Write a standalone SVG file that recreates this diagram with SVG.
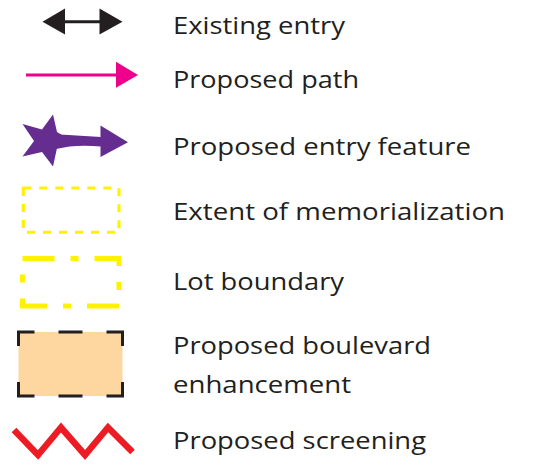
<svg xmlns="http://www.w3.org/2000/svg" width="539" height="465" viewBox="0 0 539 465">
<style>
.t{font-family:"Open Sans","Liberation Sans",sans-serif;font-size:24.5px;fill:#231f20}
</style>
<rect width="539" height="465" fill="#ffffff"/>
<g id="existing-entry">
<line x1="64" y1="21.7" x2="101" y2="21.7" stroke="#231f20" stroke-width="3"/>
<polygon points="42.5,21.7 65,8.5 65,34.5" fill="#231f20"/>
<polygon points="122.5,21.7 99.5,8.5 99.5,34.5" fill="#231f20"/>
<text class="t" x="173" y="34" textLength="172" lengthAdjust="spacingAndGlyphs">Existing entry</text>
</g>
<g id="proposed-path">
<line x1="26" y1="75" x2="117" y2="75" stroke="#ec008c" stroke-width="3"/>
<polygon points="116,61.7 138,75 116,87.7" fill="#ec008c"/>
<text class="t" x="173" y="88" textLength="186" lengthAdjust="spacingAndGlyphs">Proposed path</text>
</g>
<g id="proposed-entry-feature" fill="#662d91">
<polygon points="53,114.5 57,132 70,140 57,148 53,166.5 42,152 22.5,156.5 34,141 22.5,124 42,129.5"/>
<path d="M52,134 L101,137 L101,146.5 Q75,144 56,149 Z"/>
<polygon points="100.5,125.5 128,142.3 100.5,157"/>
<text class="t" x="173" y="155" textLength="298" lengthAdjust="spacingAndGlyphs">Proposed entry feature</text>
</g>
<g id="extent-of-memorialization">
<rect x="23.3" y="188" width="95.7" height="44.3" fill="none" stroke="#fff200" stroke-width="3.1" stroke-dasharray="8 8"/>
<text class="t" x="173" y="220" textLength="332" lengthAdjust="spacingAndGlyphs">Extent of memorialization</text>
</g>
<g id="lot-boundary">
<rect x="22.5" y="258.5" width="96.5" height="47.5" fill="none" stroke="#fff200" stroke-width="5" stroke-dasharray="32 16 8 16"/>
<text class="t" x="173" y="290" textLength="171" lengthAdjust="spacingAndGlyphs">Lot boundary</text>
</g>
<g id="proposed-boulevard-enhancement">
<rect x="18.5" y="332" width="104" height="64" fill="#fdd6a0" stroke="#231f20" stroke-width="3" stroke-dasharray="30 24 24 24 30 36" stroke-dashoffset="14"/>
<text class="t" x="173" y="354" textLength="258" lengthAdjust="spacingAndGlyphs">Proposed boulevard</text>
<text class="t" x="173" y="393" textLength="178" lengthAdjust="spacingAndGlyphs">enhancement</text>
</g>
<g id="proposed-screening">
<polyline points="14,430 38,455 61,427.5 85,455 108,427.5 132.5,452" fill="none" stroke="#ed1c24" stroke-width="6.5" stroke-linejoin="miter"/>
<text class="t" x="173" y="449" textLength="253" lengthAdjust="spacingAndGlyphs">Proposed screening</text>
</g>
<g id="connectors"/>
</svg>
